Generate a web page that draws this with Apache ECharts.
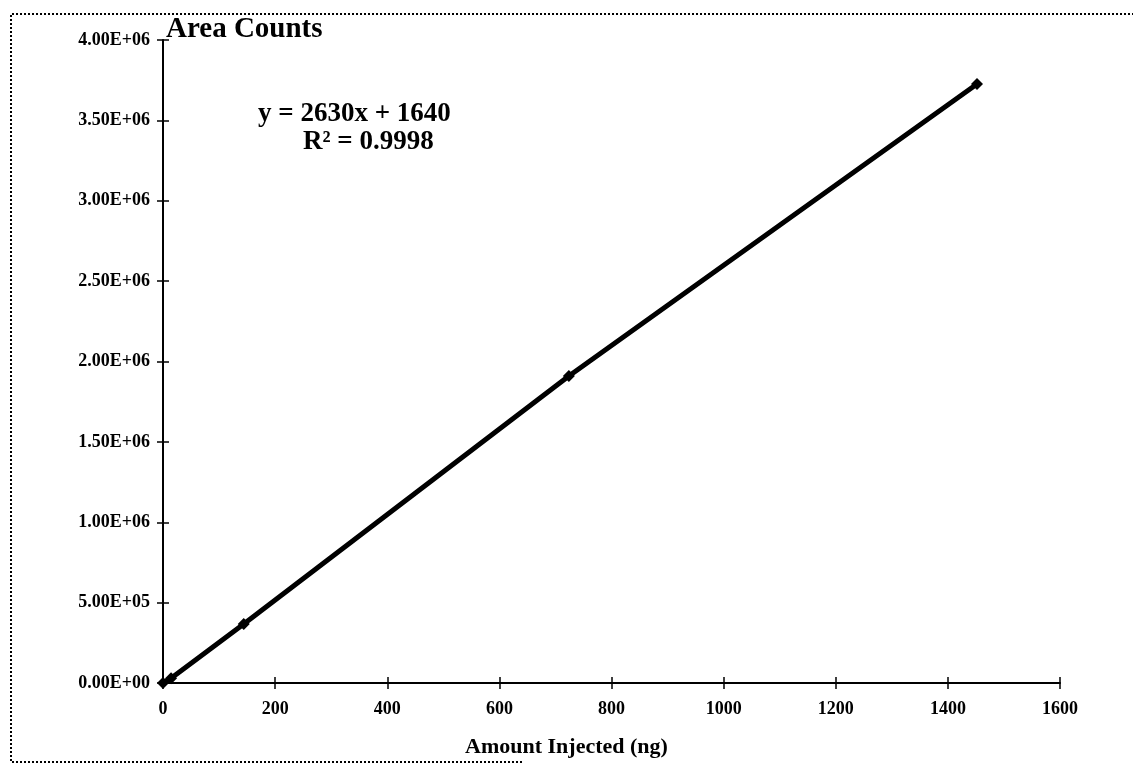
<!DOCTYPE html>
<html>
<head>
<meta charset="utf-8">
<script src="https://cdn.jsdelivr.net/npm/echarts@6/dist/echarts.min.js"></script>
<style>html,body{margin:0;padding:0;background:#fff}#c{width:1133px;height:765px}</style>
</head>
<body>
<div id="c"></div>
<script>
const amountNg = [0, 14.4, 144, 724, 1452];
const areaCounts = [0, 30000, 367000, 1910000, 3726000];
const xTicks = [0, 200, 400, 600, 800, 1000, 1200, 1400, 1600];
const yTicks = [0, 500000, 1000000, 1500000, 2000000, 2500000, 3000000, 3500000, 4000000];
const equationText = 'y = 2630x + 1640';
const r2Text = 'R\u00B2 = 0.9998';

const FONT = 'Liberation Serif';
const L = 163, R = 73, T = 40, B = 82;

function sci(v) {
  const s = Number(v).toExponential(2).toUpperCase();
  const m = s.match(/^(.*)E([+-])(\d+)$/);
  return m[1] + 'E' + m[2] + (m[3].length < 2 ? '0' + m[3] : m[3]);
}

const chart = echarts.init(document.getElementById('c'), null, {renderer: 'canvas'});
const tickStyle = {color: '#000', width: 1.5};
const xBase = {type: 'value', min: xTicks[0], max: xTicks[xTicks.length - 1], interval: 200, splitLine: {show: false}};
const yBase = {type: 'value', min: yTicks[0], max: yTicks[yTicks.length - 1], interval: 500000, splitLine: {show: false}};
chart.setOption({
  animation: false,
  backgroundColor: '#fff',
  grid: [
    {left: L, right: R, top: T, bottom: B, containLabel: false},
    {left: L, right: R, top: T, bottom: B, containLabel: false}
  ],
  xAxis: [
    Object.assign({}, xBase, {
      gridIndex: 0, position: 'bottom',
      axisLine: {lineStyle: {color: '#000', width: 2}},
      axisTick: {inside: false, length: 6, lineStyle: tickStyle},
      axisLabel: {color: '#000', fontFamily: FONT, fontWeight: 'bold', fontSize: 18, margin: 17, formatter: v => String(v)}
    }),
    Object.assign({}, xBase, {
      gridIndex: 1, position: 'bottom',
      axisLine: {show: false},
      axisTick: {inside: true, length: 6, lineStyle: tickStyle},
      axisLabel: {show: false}
    })
  ],
  yAxis: [
    Object.assign({}, yBase, {
      gridIndex: 0, position: 'left',
      axisLine: {show: true, lineStyle: {color: '#000', width: 2}},
      axisTick: {show: true, inside: false, length: 6, lineStyle: tickStyle},
      axisLabel: {color: '#000', fontFamily: FONT, fontWeight: 'bold', fontSize: 18, margin: 13, formatter: sci}
    }),
    Object.assign({}, yBase, {
      gridIndex: 1, position: 'left',
      axisLine: {show: false},
      axisTick: {show: true, inside: true, length: 6, lineStyle: tickStyle},
      axisLabel: {show: false}
    })
  ],
  series: [{
    type: 'line',
    xAxisIndex: 0, yAxisIndex: 0,
    data: amountNg.map((x, i) => [x, areaCounts[i]]),
    symbol: 'diamond',
    symbolSize: 12,
    showSymbol: true,
    lineStyle: {color: '#000', width: 5},
    itemStyle: {color: '#000'},
    z: 5
  }],
  graphic: [
    {type: 'polyline', silent: true, shape: {points: [[522, 762], [11, 762], [11, 14], [1133, 14]]},
      style: {stroke: '#000', lineWidth: 2, lineDash: [2, 2], fill: null}},
    {type: 'text', left: 166, top: 15, style: {text: 'Area Counts', fontFamily: FONT, fontWeight: 'bold', fontSize: 29, fill: '#000'}},
    {type: 'text', left: 258, top: 101, style: {text: equationText, fontFamily: FONT, fontWeight: 'bold', fontSize: 27, fill: '#000'}},
    {type: 'text', left: 303, top: 129, style: {text: r2Text, fontFamily: FONT, fontWeight: 'bold', fontSize: 27, fill: '#000'}},
    {type: 'text', left: 465, top: 736, style: {text: 'Amount Injected (ng)', fontFamily: FONT, fontWeight: 'bold', fontSize: 22, fill: '#000'}}
  ]
});
</script>
</body>
</html>
